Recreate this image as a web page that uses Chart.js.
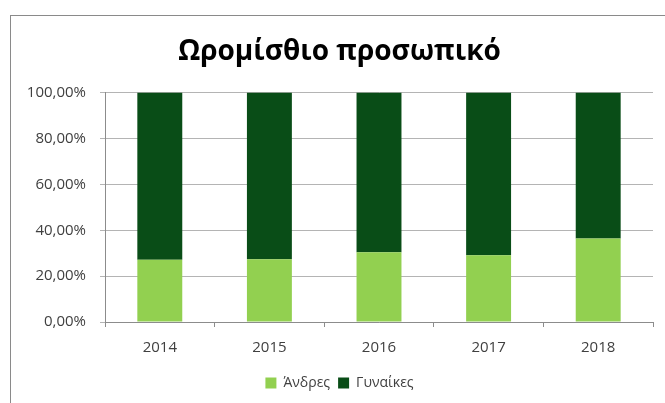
<!DOCTYPE html>
<html>
<head>
<meta charset="utf-8">
<script src="https://cdn.jsdelivr.net/npm/chart.js@4.4.1/dist/chart.umd.min.js"></script>
<style>
  html, body { margin: 0; padding: 0; background: #fff; }
  #wrap { position: relative; width: 665px; height: 403px; overflow: hidden; }
  #frame { position: absolute; left: 10px; top: 15px; width: 700px; height: 420px; border: 1px solid #8a8a8a; box-sizing: border-box; }
  #chart { position: absolute; left: 0; top: 0; }
</style>
</head>
<body>
<div id="wrap">
  <div id="frame"></div>
  <canvas id="chart" width="665" height="403"></canvas>
</div>
<script>
// Hourly staff, share by sex (percent)
const years = ['2014', '2015', '2016', '2017', '2018'];
const men = [27.1, 27.3, 30.4, 29.1, 36.4];
const women = [72.9, 72.7, 69.6, 70.9, 63.6];
const seriesNames = ['Άνδρες', 'Γυναίκες'];

const FONT = "'Open Sans', 'Noto Sans', sans-serif";
const TEXT = '#404040';

const ctx = document.getElementById('chart');

new Chart(ctx, {
  type: 'bar',
  data: {
    labels: years,
    datasets: [
      { label: seriesNames[0], data: men, backgroundColor: '#92d050' },
      { label: seriesNames[1], data: women, backgroundColor: '#094d17' }
    ]
  },
  options: {
    responsive: false,
    animation: false,
    // extra left padding keeps title/legend centred like the original; y labels overflow into it
    layout: { padding: { left: 26, right: 12, top: 15, bottom: 3 } },
    datasets: { bar: { categoryPercentage: 1, barPercentage: 0.41 } },
    plugins: {
      title: {
        display: true,
        text: 'Ωρομίσθιο προσωπικό',
        color: '#000',
        font: { family: FONT, size: 28, weight: 'bold' },
        padding: { top: 20, bottom: 24 }
      },
      legend: {
        position: 'bottom',
        labels: {
          color: TEXT,
          font: { family: FONT, size: 14 },
          boxWidth: 11,
          boxHeight: 11,
          padding: 8
        }
      },
      tooltip: { enabled: false }
    },
    scales: {
      x: {
        stacked: true,
        grid: { display: true, drawOnChartArea: false, drawTicks: true, tickLength: 5, color: '#8c8c8c', offset: true },
        border: { color: '#8c8c8c' },
        ticks: { color: TEXT, font: { family: FONT, size: 15 }, padding: 12 },
        afterFit: (s) => { s.height = 46; }
      },
      y: {
        stacked: true,
        min: 0,
        max: 100,
        ticks: {
          stepSize: 20,
          color: TEXT,
          font: { family: FONT, size: 15 },
          padding: 14,
          callback: (v) => v.toFixed(2).replace('.', ',') + '%'
        },
        grid: { color: '#b4b4b4', tickLength: 5 },
        border: { color: '#8c8c8c' },
        afterFit: (s) => { s.width = 79; }
      }
    }
  }
});
</script>
</body>
</html>
